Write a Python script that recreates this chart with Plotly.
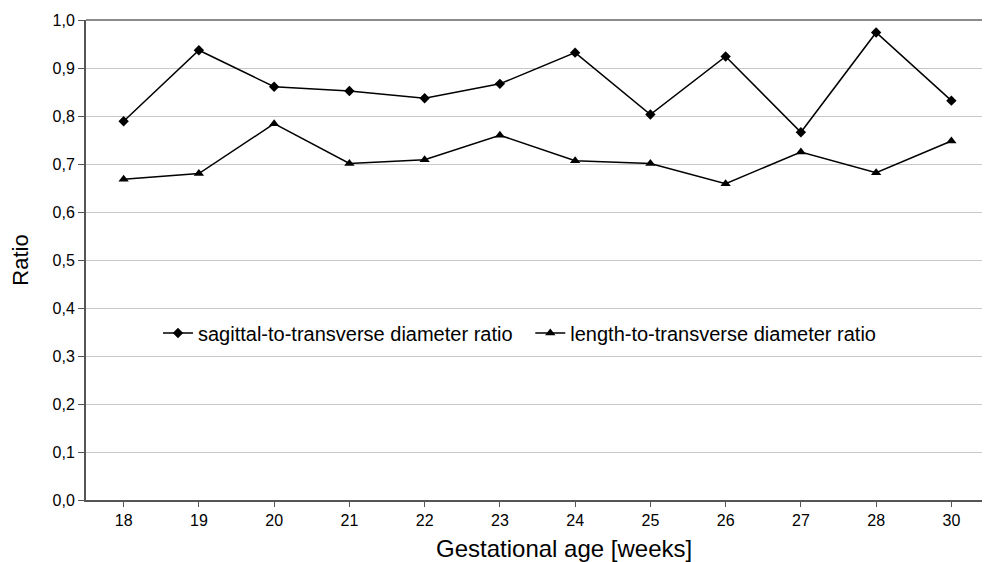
import plotly.graph_objects as go

weeks = ["18", "19", "20", "21", "22", "23", "24", "25", "26", "27", "28", "30"]
sagittal_ratio = [0.789, 0.937, 0.861, 0.852, 0.837, 0.867, 0.932, 0.803, 0.924, 0.766, 0.974, 0.832]
length_ratio = [0.668, 0.680, 0.784, 0.701, 0.709, 0.760, 0.707, 0.701, 0.659, 0.725, 0.682, 0.748]
y_ticks = [0.0, 0.1, 0.2, 0.3, 0.4, 0.5, 0.6, 0.7, 0.8, 0.9, 1.0]

fig = go.Figure()
fig.add_trace(go.Scatter(
    x=weeks, y=sagittal_ratio, mode="lines+markers",
    name="sagittal-to-transverse diameter ratio",
    line=dict(color="black", width=1.5),
    marker=dict(symbol="diamond", size=8, color="black"),
    legend="legend",
))
fig.add_trace(go.Scatter(
    x=weeks, y=length_ratio, mode="lines+markers",
    name="length-to-transverse diameter ratio",
    line=dict(color="black", width=1.5),
    marker=dict(symbol="triangle-up", size=9, color="black"),
    legend="legend2",
))

leg_common = dict(xanchor="left", yanchor="middle", font=dict(size=20),
                  bgcolor="rgba(0,0,0,0)", itemwidth=30)

fig.update_layout(
    width=982, height=554,
    margin=dict(l=78, r=1, t=12, b=62),
    paper_bgcolor="white", plot_bgcolor="white",
    separators=",.",
    font=dict(family="Liberation Sans, Arial, sans-serif", color="black", size=16),
    showlegend=True,
    legend=dict(x=0.0797, y=0.348, **leg_common),
    legend2=dict(x=0.492, y=0.348, **leg_common),
    xaxis=dict(
        type="category", range=[-0.5, len(weeks) - 0.5],
        showgrid=False, showline=True, linecolor="#555555", linewidth=2,
        ticks="outside", ticklen=5, tickcolor="#555555",
        tickfont=dict(size=16),
        zeroline=False,
    ),
    yaxis=dict(
        range=[0, 1.0], tickvals=y_ticks, tickformat=".1f",
        showgrid=True, gridcolor="#c8c8c8", gridwidth=1,
        showline=True, linecolor="#555555", linewidth=2,
        ticks="outside", ticklen=6, tickcolor="#555555",
        tickfont=dict(size=16),
        title=dict(text="Ratio", font=dict(size=22), standoff=18),
        zeroline=False,
    ),
    annotations=[
        dict(text="Gestational age [weeks]", xref="paper", yref="paper",
             x=0.529, y=-0.102, xanchor="center", yanchor="middle",
             showarrow=False, font=dict(size=24)),
    ],
    shapes=[
        dict(type="line", xref="paper", yref="paper", x0=0, x1=1, y0=1, y1=1,
             line=dict(color="#8c8c8c", width=2)),
        dict(type="line", xref="paper", yref="paper", x0=1, x1=1, y0=0, y1=1,
             line=dict(color="#d0d0d0", width=1)),
    ],
)

fig.write_html("out.html")
